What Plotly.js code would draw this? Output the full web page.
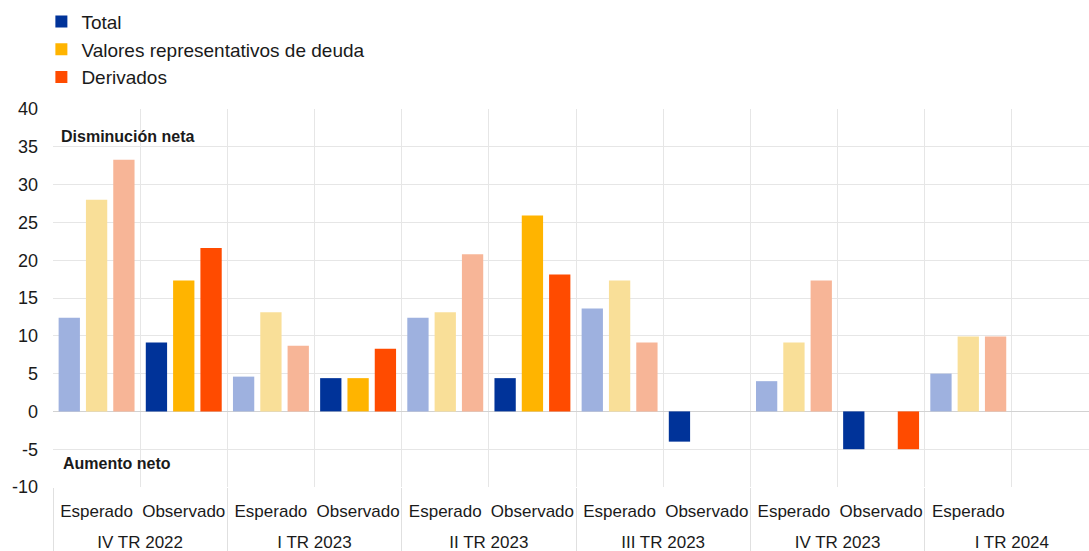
<!DOCTYPE html>
<html>
<head>
<meta charset="utf-8">
<script src="https://cdn.plot.ly/plotly-3.0.1.min.js"></script>
<style>html,body{margin:0;padding:0;background:#fff;}#chart{width:1089px;height:551px;}</style>
</head>
<body>
<div id="chart"></div>
<script>
// Categories (two-level x axis)
const quarters = ["IV TR 2022","IV TR 2022","I TR 2023","I TR 2023","II TR 2023","II TR 2023","III TR 2023","III TR 2023","IV TR 2023","IV TR 2023","I TR 2024","I TR 2024"];
const kinds = ["Esperado","Observado","Esperado","Observado","Esperado","Observado","Esperado","Observado","Esperado","Observado","Esperado"," "];

// Expected values (Esperado)
const totalEsperado   = [12.4, null, 4.6, null, 12.4, null, 13.6, null, 4.0, null, 5.0, null];
const valoresEsperado = [28.0, null, 13.1, null, 13.1, null, 17.3, null, 9.1, null, 9.9, null];
const derivEsperado   = [33.3, null, 8.7, null, 20.8, null, 9.1, null, 17.3, null, 9.9, null];

// Observed values (Observado)
const totalObservado   = [null, 9.1, null, 4.4, null, 4.4, null, -4.0, null, -5.0, null, null];
const valoresObservado = [null, 17.3, null, 4.4, null, 25.9, null, null, null, null, null, null];
const derivObservado   = [null, 21.6, null, 8.3, null, 18.1, null, null, null, -5.0, null, null];

const seriesNames = ["Total", "Valores representativos de deuda", "Derivados"];
const yTicks = [-10, -5, 0, 5, 10, 15, 20, 25, 30, 35, 40];

const darkColors = ["#003399", "#ffb400", "#ff4b00"];
const lightBg = ["#aebfe6", "#fde6a4", "#fac0a4"];
const lightFg = ["#8aa0d6", "#f6d688", "#f4a886"];

// inner labels get an extra blank line so the quarter row sits lower
const x = [quarters, kinds.map(k => k + "<br>\u00a0")];
const esp = [totalEsperado, valoresEsperado, derivEsperado];
const obs = [totalObservado, valoresObservado, derivObservado];

const traces = [];
for (let i = 0; i < 3; i++) {
  traces.push({
    type: "bar", x: x, y: obs[i], name: seriesNames[i],
    offsetgroup: String(i), legendrank: i + 1,
    marker: {color: darkColors[i], line: {width: 0}},
    hoverinfo: "y"
  });
}
for (let i = 0; i < 3; i++) {
  traces.push({
    type: "bar", x: x, y: esp[i], name: seriesNames[i] + " (esperado)",
    offsetgroup: String(i), showlegend: false,
    marker: {color: lightBg[i], line: {width: 0},
      pattern: {shape: ".", bgcolor: lightBg[i], fgcolor: lightFg[i], size: 2, solidity: 0.5, fillmode: "replace"}},
    hoverinfo: "y"
  });
}

const layout = {
  width: 1089, height: 551,
  margin: {l: 53, r: 0, t: 109, b: 64, autoexpand: false},
  paper_bgcolor: "#ffffff", plot_bgcolor: "#ffffff",
  font: {family: "Liberation Sans, Arial, sans-serif", color: "#1a1a1a"},
  barmode: "group", bargap: 0.06, bargroupgap: 0.22,
  showlegend: true,
  legend: {
    xref: "container", yref: "container", x: 0.038, y: 0.995, xanchor: "left", yanchor: "top",
    font: {size: 19, color: "#1a1a1a"}, traceorder: "normal", bgcolor: "rgba(0,0,0,0)",
    itemwidth: 30
  },
  xaxis: {
    type: "multicategory", range: [-0.5, 11.385], automargin: false,
    tickson: "boundaries", showgrid: true, gridcolor: "#e6e6e6", gridwidth: 1,
    showline: false, ticks: "", tickangle: 0, tickfont: {size: 17, color: "#1a1a1a"},
    ticklabelstandoff: 12,
    showdividers: true, dividercolor: "#e0e0e0", dividerwidth: 1,
    fixedrange: true
  },
  yaxis: {
    range: [-10, 40], tickvals: yTicks, ticktext: yTicks.map(String), automargin: false,
    showgrid: true, gridcolor: "#e6e6e6", gridwidth: 1,
    zeroline: true, zerolinecolor: "#d2d2d2", zerolinewidth: 1,
    showline: false, ticks: "", tickfont: {size: 18, color: "#1a1a1a"},
    ticklabelstandoff: 14, fixedrange: true
  },
  annotations: [
    {xref: "paper", yref: "y", x: 0.006, y: 36.3, xanchor: "left", yanchor: "middle",
     text: "<b>Disminución neta</b>", showarrow: false, font: {size: 16, color: "#1a1a1a"}},
    {xref: "paper", yref: "y", x: 0.008, y: -6.9, xanchor: "left", yanchor: "middle",
     text: "<b>Aumento neto</b>", showarrow: false, font: {size: 16, color: "#1a1a1a"}}
  ]
};

Plotly.newPlot("chart", traces, layout, {displayModeBar: false, staticPlot: true});
</script>
</body>
</html>
